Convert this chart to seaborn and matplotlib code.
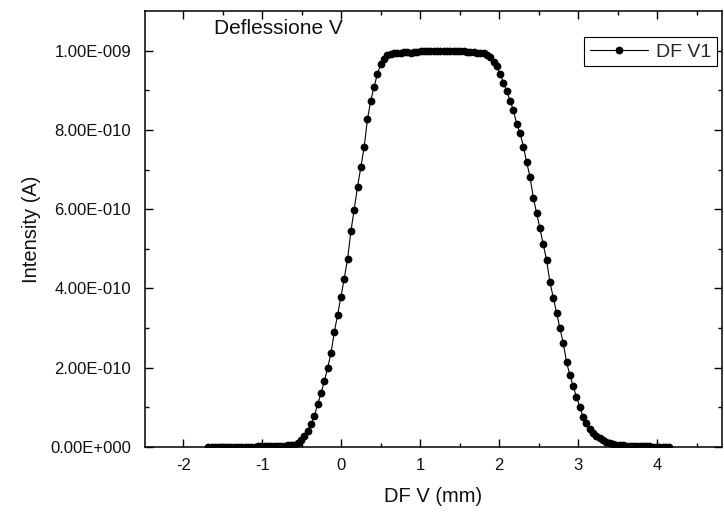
import numpy as np
import pandas as pd
import matplotlib
matplotlib.use("Agg")
import matplotlib.pyplot as plt
from matplotlib.ticker import FuncFormatter, FixedLocator
import seaborn as sns

# Scan positions (mm): uniform steps from -1.684 to 4.154
step_mm = 0.042
x_start = -1.684
n_points = 140

# Measured beam current, in units of 1e-9 A
intensity_nA = [
    # left baseline  (-1.684 ... -0.550)
    0.001, 0.001, 0.001, 0.001, 0.001, 0.001, 0.001, 0.001, 0.001, 0.001,
    0.001, 0.001, 0.001, 0.001, 0.001, 0.002, 0.002, 0.002, 0.002, 0.002,
    0.002, 0.002, 0.003, 0.003, 0.004, 0.005, 0.006, 0.010,
    # rising edge  (-0.508 ... 0.500)
    0.018, 0.028, 0.041, 0.058, 0.078, 0.108, 0.135, 0.166, 0.200, 0.236,
    0.290, 0.333, 0.379, 0.425, 0.474, 0.544, 0.599, 0.656, 0.706, 0.756,
    0.827, 0.874, 0.909, 0.941, 0.966,
    # plateau  (0.542 ... 1.928)
    0.980, 0.988, 0.992, 0.994, 0.995, 0.995, 0.996, 0.996, 0.995, 0.996,
    0.997, 0.998, 0.998, 0.999, 0.999, 1.000, 1.000, 1.000, 0.999, 1.000,
    1.000, 0.999, 0.999, 0.998, 0.998, 0.997, 0.997, 0.996, 0.995, 0.994,
    0.994, 0.990, 0.983, 0.972,
    # falling edge  (1.970 ... 3.122)
    0.960, 0.940, 0.919, 0.897, 0.874, 0.849, 0.815, 0.792, 0.758, 0.718,
    0.681, 0.629, 0.590, 0.552, 0.511, 0.471, 0.416, 0.377, 0.339, 0.300,
    0.263, 0.215, 0.181, 0.154, 0.126, 0.102, 0.075, 0.060, 0.045,
    # right tail  (3.164 ... 4.154)
    0.035, 0.028, 0.022, 0.017, 0.013, 0.010, 0.008, 0.006, 0.005, 0.004,
    0.003, 0.003, 0.003, 0.002, 0.002, 0.002, 0.002, 0.002, 0.001, 0.001,
    0.001, 0.001, 0.001, 0.001,
]

x_ticks = [-2, -1, 0, 1, 2, 3, 4]
x_minor = [-2.5, -1.5, -0.5, 0.5, 1.5, 2.5, 3.5, 4.5]
y_ticks = [0.0, 2e-10, 4e-10, 6e-10, 8e-10, 1e-9]
y_minor = [1e-10, 3e-10, 5e-10, 7e-10, 9e-10]

series_label = "DF V1"
x_label = "DF V (mm)"
y_label = "Intensity (A)"
annotation = "Deflessione V"

position_mm = np.round(x_start + step_mm * np.arange(n_points), 3)
df = pd.DataFrame({"pos": position_mm,
                   "current": np.array(intensity_nA[:n_points]) * 1e-9})

sns.set_style("ticks")
plt.rcParams["font.family"] = ["Liberation Sans", "DejaVu Sans"]
plt.rcParams["axes.linewidth"] = 1.1
plt.rcParams["axes.unicode_minus"] = False

fig = plt.figure(figsize=(7.24, 5.13), dpi=100)
ax = fig.add_axes([0.2003, 0.1287, 0.7969, 0.8499])

sns.lineplot(data=df, x="pos", y="current", ax=ax, color="black",
             linewidth=0.8, marker="o", markersize=5.6, markeredgewidth=0,
             label=series_label, sort=False)

ax.set_xlim(-2.484, 4.82)
ax.set_ylim(0, 1.1e-9)
ax.xaxis.set_major_locator(FixedLocator(x_ticks))
ax.xaxis.set_minor_locator(FixedLocator(x_minor))
ax.yaxis.set_major_locator(FixedLocator(y_ticks))
ax.yaxis.set_minor_locator(FixedLocator(y_minor))


def sci_label(v, _pos):
    if abs(v) < 1e-15:
        return "0.00E+000"
    e = int(np.floor(np.log10(abs(v)) + 1e-9))
    m = v / 10 ** e
    if round(abs(m), 2) >= 10:
        m /= 10
        e += 1
    sign = "-" if e < 0 else "+"
    return f"{m:.2f}E{sign}{abs(e):03d}"


ax.yaxis.set_major_formatter(FuncFormatter(sci_label))
ax.xaxis.set_major_formatter(FuncFormatter(lambda v, _p: f"{v:g}"))

ax.tick_params(which="both", direction="in", top=True, right=True,
               color="black", width=1.0, labelsize=12, labelcolor="#111111")
ax.tick_params(which="major", length=6)
ax.tick_params(axis="y", which="major", pad=10)
ax.tick_params(axis="x", which="major", pad=8)
ax.tick_params(which="minor", length=3)
for s in ax.spines.values():
    s.set_color("black")

ax.set_xlabel(x_label, fontsize=14.5, labelpad=10, color="#111111")
ax.set_ylabel(y_label, fontsize=14.5, labelpad=7, color="#111111")

ax.text(-1.61, 1.055e-9, annotation, fontsize=15, va="center", ha="left",
        color="#111111")

leg = ax.legend(loc="upper right", bbox_to_anchor=(0.992, 0.94),
                fontsize=14, frameon=True, fancybox=False, framealpha=1,
                edgecolor="black", handlelength=3.0, handletextpad=0.4,
                borderpad=0.3, borderaxespad=0)
leg.get_frame().set_linewidth(0.8)

fig.savefig("out.png", dpi=100)
